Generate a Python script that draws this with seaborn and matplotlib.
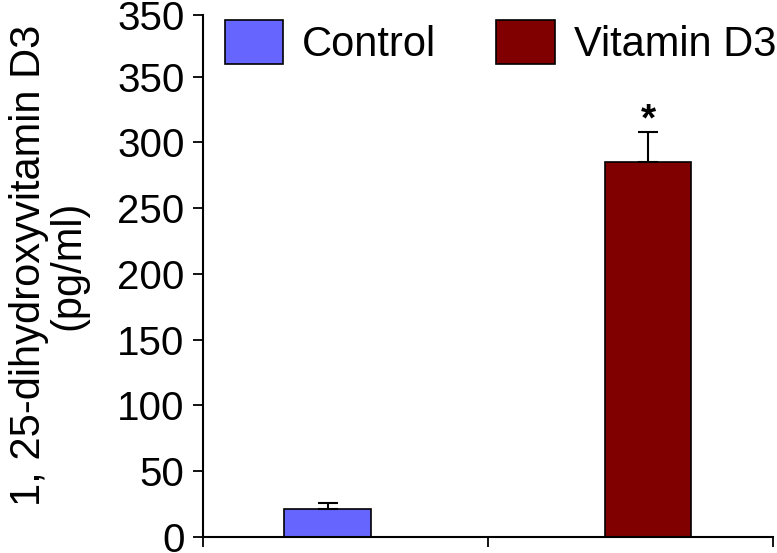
import numpy as np
import pandas as pd
import matplotlib
matplotlib.use("Agg")
import matplotlib.pyplot as plt
import seaborn as sns
from matplotlib.patches import Patch

# Data
groups = ["Control", "Vitamin D3"]
means = [21, 285]
errors = [5, 23]
colors = ["#6666FF", "#800000"]
ytick_values = [0, 50, 100, 150, 200, 250, 300, 350, 397]
ytick_labels = ["0", "50", "100", "150", "200", "250", "300", "350", "350"]

df = pd.DataFrame({"group": groups, "value": means})

sns.set_style("ticks")
plt.rcParams["font.family"] = ["Liberation Sans", "DejaVu Sans"]
plt.rcParams["text.color"] = "black"
plt.rcParams["axes.labelcolor"] = "black"
plt.rcParams["xtick.color"] = "black"
plt.rcParams["ytick.color"] = "black"

fig = plt.figure(figsize=(7.77, 5.53), dpi=100)
ax = fig.add_axes([0.261, 0.029, 0.734, 0.944])

sns.barplot(data=df, x="group", y="value", hue="group", palette=colors,
            saturation=1, width=0.27, edgecolor="black", linewidth=1.2,
            legend=False, ax=ax)

# upper error bars only
ax.errorbar(range(len(groups)), means, yerr=[[0, 0], errors], fmt="none",
            ecolor="black", elinewidth=1.5, capsize=7, capthick=1.5, zorder=1)

ax.text(1, 317, "*", ha="center", va="center", fontsize=28, fontweight="bold")

ax.set_xlim(-0.39, 1.39)
ax.set_xticks([-0.39, 0.5, 1.39])
ax.set_xticklabels(["", "", ""])
ax.set_ylim(0, 397)
ax.set_yticks(ytick_values)
ax.set_yticklabels(ytick_labels)
ax.set_xlabel("")
ax.set_ylabel("1, 25-dihydroxyvitamin D3\n(pg/ml)", fontsize=30,
              linespacing=1.0)
ax.yaxis.set_label_coords(-0.2, 0.521)
ax.tick_params(axis="both", labelsize=29, length=7, width=1.3, pad=6)
sns.despine(ax=ax)
for s in ["left", "bottom"]:
    ax.spines[s].set_linewidth(1.5)
    ax.spines[s].set_color("black")

handles = [Patch(facecolor=c, edgecolor="black", linewidth=1.2) for c in colors]
ax.legend(handles, groups, loc="upper left", bbox_to_anchor=(0.0386, 0.99),
          ncol=2, frameon=False, fontsize=30, handlelength=1.4,
          handleheight=1.25, handletextpad=0.45, columnspacing=1.45,
          borderaxespad=0, borderpad=0)

fig.savefig("out.png", dpi=100)
